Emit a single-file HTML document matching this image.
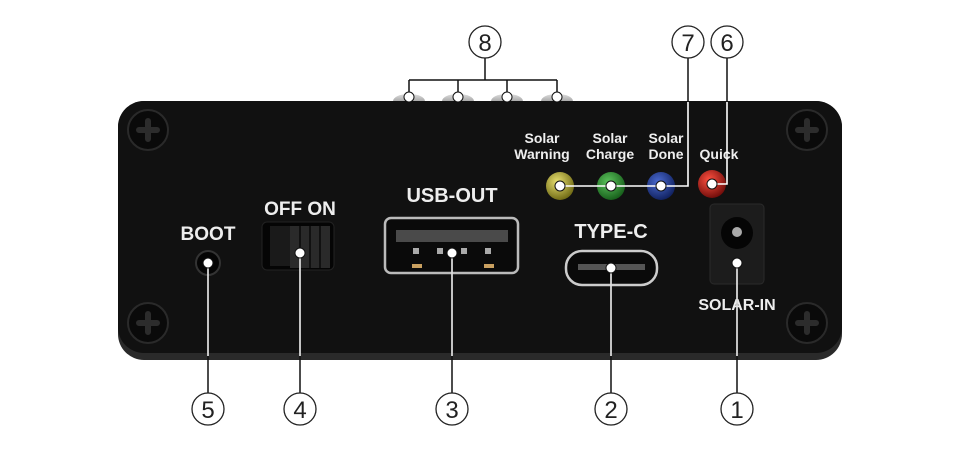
<!DOCTYPE html>
<html><head><meta charset="utf-8"><style>
html,body{margin:0;padding:0;background:#fff;}
svg{display:block;}
text{font-family:"Liberation Sans",sans-serif;}
</style></head><body>
<svg width="960" height="462" viewBox="0 0 960 462" xmlns="http://www.w3.org/2000/svg">
<defs>
<radialGradient id="ly" cx="0.4" cy="0.35" r="0.7"><stop offset="0" stop-color="#e8e070"/><stop offset="1" stop-color="#6a6410"/></radialGradient>
<radialGradient id="lg" cx="0.4" cy="0.35" r="0.7"><stop offset="0" stop-color="#5cc45c"/><stop offset="1" stop-color="#145a18"/></radialGradient>
<radialGradient id="lb" cx="0.4" cy="0.35" r="0.7"><stop offset="0" stop-color="#4a6ad0"/><stop offset="1" stop-color="#0e1e5a"/></radialGradient>
<radialGradient id="lr" cx="0.4" cy="0.35" r="0.7"><stop offset="0" stop-color="#ff5040"/><stop offset="1" stop-color="#6a0a08"/></radialGradient>
<linearGradient id="knob" x1="0" y1="0" x2="0" y2="1"><stop offset="0" stop-color="#ddd"/><stop offset="1" stop-color="#777"/></linearGradient>
</defs>
<g fill="url(#knob)">
<ellipse cx="409" cy="101" rx="16" ry="7"/><ellipse cx="458" cy="101" rx="16" ry="7"/>
<ellipse cx="507" cy="101" rx="16" ry="7"/><ellipse cx="557" cy="101" rx="16" ry="7"/>
</g>
<rect x="118" y="101" width="724" height="259" rx="26" fill="#2a2a2a"/>
<rect x="118" y="101" width="724" height="252" rx="26" fill="#111"/>
<g>
<circle cx="148" cy="130" r="20" fill="#0a0a0a" stroke="#2a2a2a" stroke-width="2"/>
<circle cx="148" cy="323" r="20" fill="#0a0a0a" stroke="#2a2a2a" stroke-width="2"/>
<circle cx="807" cy="130" r="20" fill="#0a0a0a" stroke="#2a2a2a" stroke-width="2"/>
<circle cx="807" cy="323" r="20" fill="#0a0a0a" stroke="#2a2a2a" stroke-width="2"/>
<g stroke="#2c2c2c" stroke-width="6" stroke-linecap="round">
<path d="M139 130h18M148 121v18"/><path d="M139 323h18M148 314v18"/>
<path d="M798 130h18M807 121v18"/><path d="M798 323h18M807 314v18"/>
</g>
</g>
<g fill="#eee" font-weight="bold" text-anchor="middle">
<text x="208" y="240" font-size="19">BOOT</text>
<text x="300" y="215" font-size="19">OFF ON</text>
<text x="452" y="202" font-size="20">USB-OUT</text>
<text x="611" y="238" font-size="20">TYPE-C</text>
<text x="737" y="310" font-size="16">SOLAR-IN</text>
<g font-size="14">
<text x="542" y="143">Solar</text><text x="542" y="159">Warning</text>
<text x="610" y="143">Solar</text><text x="610" y="159">Charge</text>
<text x="666" y="143">Solar</text><text x="666" y="159">Done</text>
<text x="719" y="159">Quick</text>
</g>
</g>
<circle cx="560" cy="186" r="14" fill="url(#ly)"/>
<circle cx="611" cy="186" r="14" fill="url(#lg)"/>
<circle cx="661" cy="186" r="14" fill="url(#lb)"/>
<circle cx="712" cy="184" r="14" fill="url(#lr)"/>
<circle cx="208" cy="263" r="12" fill="#050505" stroke="#333" stroke-width="2"/>
<rect x="262" y="222" width="72" height="48" rx="5" fill="#050505" stroke="#222"/>
<rect x="270" y="226" width="60" height="40" fill="#1a1a1a"/>
<rect x="290" y="226" width="40" height="42" fill="#2a2a2a"/>
<g stroke="#111" stroke-width="2"><path d="M300 226v42M310 226v42M320 226v42"/></g>
<rect x="385" y="218" width="133" height="55" rx="6" fill="#0a0a0a" stroke="#bbb" stroke-width="2.5"/>
<rect x="396" y="230" width="112" height="12" fill="#4a4a4a"/>
<g fill="#c9a060"><rect x="412" y="264" width="10" height="4"/><rect x="484" y="264" width="10" height="4"/></g>
<g fill="#aaa"><rect x="413" y="248" width="6" height="6"/><rect x="437" y="248" width="6" height="6"/><rect x="461" y="248" width="6" height="6"/><rect x="485" y="248" width="6" height="6"/></g>
<rect x="566" y="251" width="91" height="34" rx="16" fill="#0a0a0a" stroke="#ccc" stroke-width="2.5"/>
<rect x="578" y="264" width="67" height="6" fill="#555"/>
<rect x="710" y="204" width="54" height="80" rx="4" fill="#1c1c1c" stroke="#2a2a2a"/>
<circle cx="737" cy="233" r="16" fill="#050505"/>
<circle cx="737" cy="232" r="5" fill="#aaa"/>
<g stroke="#111" stroke-width="1.5" fill="none">
<path d="M485 58V80M409 80H557M409 80V97M458 80V97M507 80V97M557 80V97"/>
<path d="M688 58V102M727 58V102"/>
</g>
<g stroke="#fff" stroke-width="1.6" fill="none">
<path d="M688 102V186H560"/>
<path d="M727 102V184H712"/>
</g>
<g stroke="#111" stroke-width="1.5" fill="none">
<path d="M208 263V393M300 253V393M452 253V393M611 268V393M737 263V393"/>
</g>
<g stroke="#fff" stroke-width="1.5" fill="none">
<path d="M208 263V356M300 253V356M452 253V356M611 268V356M737 263V356"/>
</g>
<g fill="#fff" stroke="#111" stroke-width="1">
<circle cx="409" cy="97" r="5"/><circle cx="458" cy="97" r="5"/><circle cx="507" cy="97" r="5"/><circle cx="557" cy="97" r="5"/>
<circle cx="560" cy="186" r="5"/><circle cx="611" cy="186" r="5"/><circle cx="661" cy="186" r="5"/><circle cx="712" cy="184" r="5"/>
<circle cx="208" cy="263" r="5"/><circle cx="300" cy="253" r="5"/><circle cx="452" cy="253" r="5"/><circle cx="611" cy="268" r="5"/><circle cx="737" cy="263" r="5"/>
</g>
<g fill="#fff" stroke="#222" stroke-width="1.3">
<circle cx="485" cy="42" r="16"/><circle cx="688" cy="42" r="16"/><circle cx="727" cy="42" r="16"/>
<circle cx="208" cy="409" r="16"/><circle cx="300" cy="409" r="16"/><circle cx="452" cy="409" r="16"/><circle cx="611" cy="409" r="16"/><circle cx="737" cy="409" r="16"/>
</g>
<g fill="#222" font-size="24" text-anchor="middle">
<text x="485" y="51">8</text><text x="688" y="51">7</text><text x="727" y="51">6</text>
<text x="208" y="418">5</text><text x="300" y="418">4</text><text x="452" y="418">3</text><text x="611" y="418">2</text><text x="737" y="418">1</text>
</g>
</svg>
</body></html>
